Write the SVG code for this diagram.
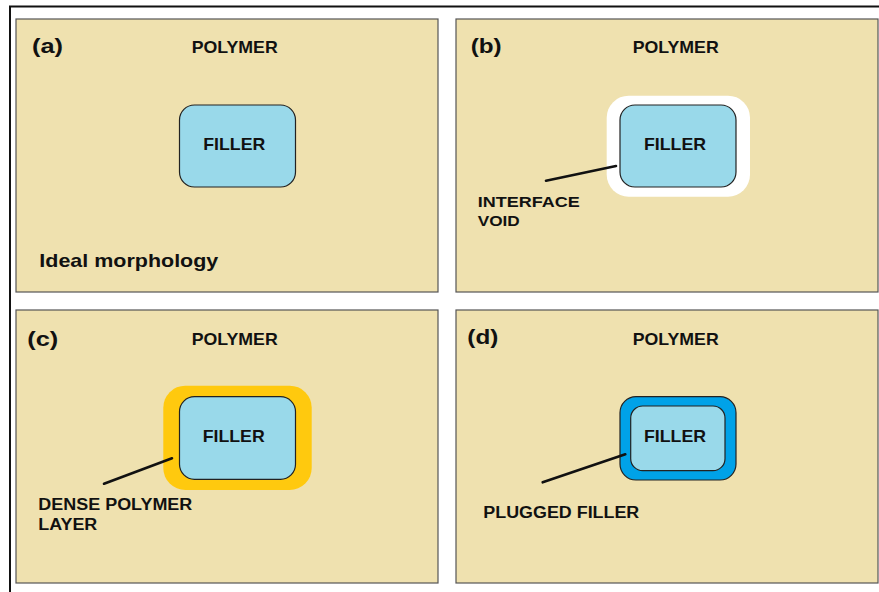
<svg xmlns="http://www.w3.org/2000/svg" width="879" height="592" viewBox="0 0 879 592">
<style>
.panel{fill:#EFE1AF;stroke:#555;stroke-width:1.2}
.filler{fill:#99D9EA;stroke:#222;stroke-width:1.2}
.t{font-family:"Liberation Sans",Arial,sans-serif;font-weight:bold;fill:#111}
.lead{stroke:#111;stroke-width:2.6;stroke-linecap:round}
</style>
<rect x="0" y="0" width="879" height="592" fill="#fff"/>
<path d="M10 592 V6.5 H879" fill="none" stroke="#111" stroke-width="2"/>

<g id="panel-a">
<rect class="panel" x="16" y="19" width="422" height="273"/>
<text class="t" x="32" y="53" font-size="21" textLength="31" lengthAdjust="spacingAndGlyphs">(a)</text>
<text class="t" x="191.7" y="53" font-size="16.5" textLength="86" lengthAdjust="spacingAndGlyphs">POLYMER</text>
<rect class="filler" x="179.5" y="105" width="116" height="82" rx="15"/>
<text class="t" x="203.3" y="150" font-size="16.5" textLength="62" lengthAdjust="spacingAndGlyphs">FILLER</text>
<text class="t" x="39.3" y="266.5" font-size="19" textLength="179" lengthAdjust="spacingAndGlyphs">Ideal morphology</text>
</g>

<g id="panel-b">
<rect class="panel" x="456" y="19" width="422" height="273"/>
<text class="t" x="470.7" y="53" font-size="21" textLength="31" lengthAdjust="spacingAndGlyphs">(b)</text>
<text class="t" x="632.7" y="53" font-size="16.5" textLength="86" lengthAdjust="spacingAndGlyphs">POLYMER</text>
<rect x="606.7" y="95.7" width="143.3" height="101" rx="22" fill="#fff"/>
<rect class="filler" x="620" y="105" width="116" height="82" rx="15"/>
<text class="t" x="644" y="150" font-size="16.5" textLength="62" lengthAdjust="spacingAndGlyphs">FILLER</text>
<text class="t" x="477.7" y="206.7" font-size="15.5" textLength="102" lengthAdjust="spacingAndGlyphs">INTERFACE</text>
<text class="t" x="477.7" y="226" font-size="15.5" textLength="42" lengthAdjust="spacingAndGlyphs">VOID</text>
</g>

<g id="panel-c">
<rect class="panel" x="16" y="310" width="422" height="273"/>
<text class="t" x="27.3" y="345.5" font-size="21" textLength="31" lengthAdjust="spacingAndGlyphs">(c)</text>
<text class="t" x="191.7" y="345" font-size="16.5" textLength="86" lengthAdjust="spacingAndGlyphs">POLYMER</text>
<rect x="163.3" y="385.7" width="148.4" height="104.3" rx="22" fill="#FFC90E"/>
<rect class="filler" x="179.5" y="396.7" width="116" height="82.6" rx="15"/>
<text class="t" x="202.7" y="441.7" font-size="16.5" textLength="62" lengthAdjust="spacingAndGlyphs">FILLER</text>
<text class="t" x="38.3" y="510.3" font-size="16" textLength="154" lengthAdjust="spacingAndGlyphs">DENSE POLYMER</text>
<text class="t" x="38.3" y="530" font-size="16" textLength="59" lengthAdjust="spacingAndGlyphs">LAYER</text>
</g>

<g id="panel-d">
<rect class="panel" x="456" y="310" width="422" height="273"/>
<text class="t" x="467.3" y="344.3" font-size="21" textLength="31" lengthAdjust="spacingAndGlyphs">(d)</text>
<text class="t" x="632.7" y="345" font-size="16.5" textLength="86" lengthAdjust="spacingAndGlyphs">POLYMER</text>
<rect x="620" y="396.7" width="116" height="83.3" rx="16" fill="#00A2E8" stroke="#222" stroke-width="1.2"/>
<rect class="filler" x="630.7" y="406" width="94.3" height="64.7" rx="12"/>
<text class="t" x="644" y="441.7" font-size="16.5" textLength="62" lengthAdjust="spacingAndGlyphs">FILLER</text>
<text class="t" x="483.3" y="517.7" font-size="16" textLength="156" lengthAdjust="spacingAndGlyphs">PLUGGED FILLER</text>
</g>

<g id="connectors">
<line class="lead" x1="546" y1="180.7" x2="616" y2="166"/>
<line class="lead" x1="104" y1="483.7" x2="172" y2="458.3"/>
<line class="lead" x1="542.7" y1="482.3" x2="625.3" y2="454.3"/>
</g>
</svg>
